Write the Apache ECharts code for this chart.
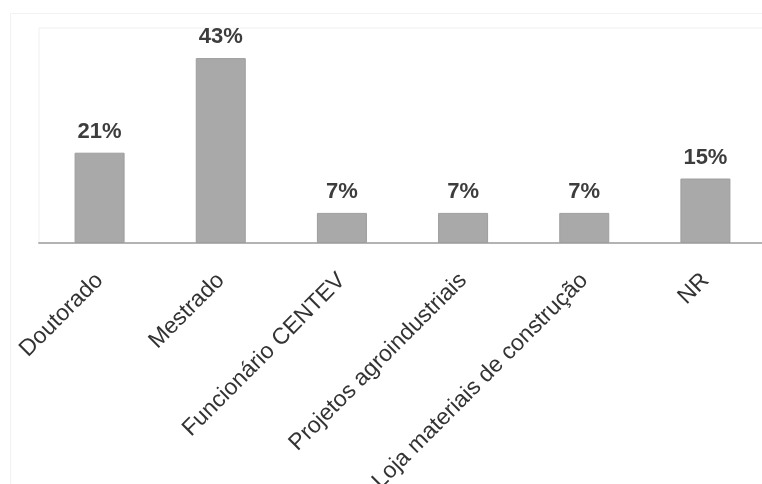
<!DOCTYPE html>
<html>
<head>
<meta charset="utf-8">
<script src="https://cdn.jsdelivr.net/npm/echarts@6/dist/echarts.min.js"></script>
<style>
  html, body { margin: 0; padding: 0; background: #ffffff; }
  #chart { width: 762px; height: 484px; }
</style>
</head>
<body>
<div id="chart"></div>
<script>
// Categories and their shares (percent)
const categories = ['Doutorado', 'Mestrado', 'Funcionário CENTEV', 'Projetos agroindustriais', 'Loja materiais de construção', 'NR'];
const shares = [21, 43, 7, 7, 7, 15];

const chart = echarts.init(document.getElementById('chart'));
chart.setOption({
  backgroundColor: '#ffffff',
  animation: false,
  graphic: [{
    type: 'rect',
    shape: { x: 10.5, y: 13.5, width: 780, height: 480 },
    style: { fill: 'none', stroke: '#f2f2f2', lineWidth: 1 }
  }],
  grid: {
    left: 39, top: 28, width: 727, height: 215,
    outerBoundsMode: 'none',
    show: true, borderColor: '#f0f0f0', borderWidth: 1
  },
  xAxis: {
    type: 'category',
    data: categories,
    axisLine: { lineStyle: { color: '#b3b3b3', width: 2 } },
    axisTick: { show: false },
    axisLabel: {
      rotate: 45,
      interval: 0,
      margin: 34,
      color: '#333333',
      fontFamily: 'Liberation Sans, Arial, sans-serif',
      fontSize: 23
    }
  },
  yAxis: {
    type: 'value',
    min: 0, max: 50,
    show: false,
    splitLine: { show: false }
  },
  series: [{
    type: 'bar',
    data: shares,
    barWidth: 50,
    itemStyle: { color: '#a9a9a9', borderColor: '#9e9e9e', borderWidth: 1 },
    label: {
      show: true,
      position: 'top',
      distance: 10,
      formatter: p => p.value + '%',
      color: '#3d3d3d',
      fontFamily: 'Liberation Sans, Arial, sans-serif',
      fontSize: 22,
      fontWeight: 'bold'
    }
  }]
});
</script>
</body>
</html>
